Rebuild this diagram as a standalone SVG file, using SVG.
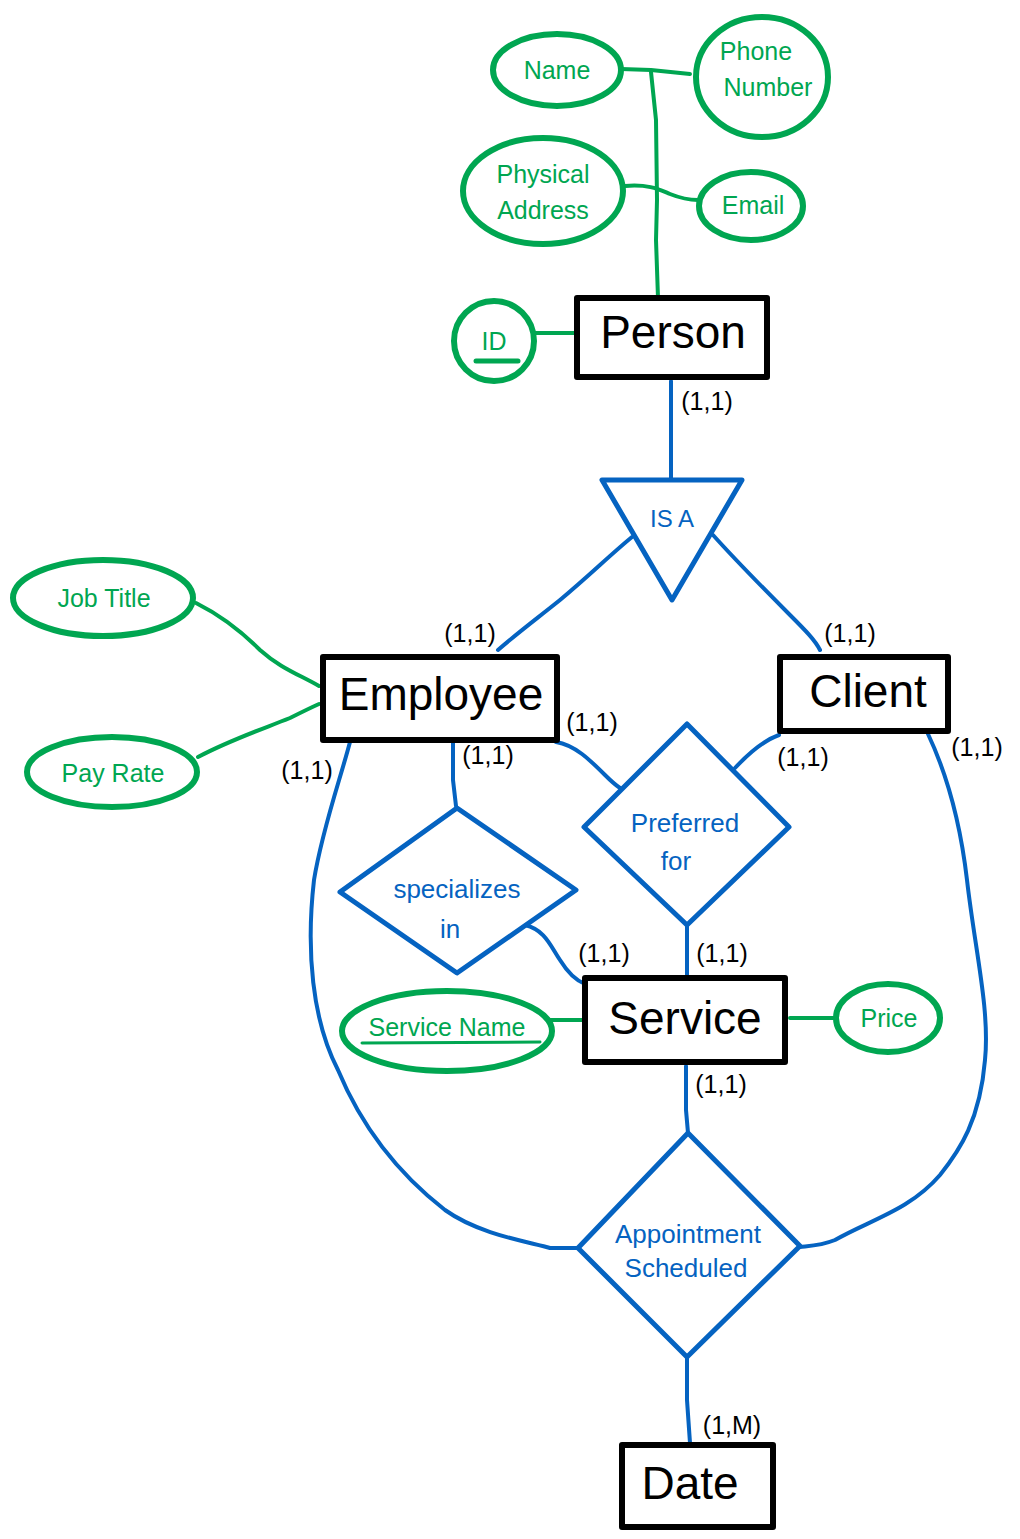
<svg xmlns="http://www.w3.org/2000/svg" width="1020" height="1539" viewBox="0 0 1020 1539">
  <style>
    .ent { fill: #ffffff; stroke: #000000; stroke-width: 6; stroke-linejoin: round; }
    .entText { font-family: "Liberation Sans", "DejaVu Sans", sans-serif; font-size: 46px; fill: #000000; text-anchor: middle; }
    .attr { fill: #ffffff; stroke: #00A651; stroke-width: 6; }
    .attrText { font-family: "Liberation Sans", "DejaVu Sans", sans-serif; font-size: 25px; fill: #00A651; text-anchor: middle; }
    .rel { fill: #ffffff; stroke: #0563C1; stroke-width: 5; stroke-linejoin: round; }
    .relText { font-family: "Liberation Sans", "DejaVu Sans", sans-serif; font-size: 26px; fill: #0563C1; text-anchor: middle; }
    .gLine { fill: none; stroke: #00A651; stroke-width: 4; stroke-linecap: round; stroke-linejoin: round; }
    .bLine { fill: none; stroke: #0563C1; stroke-width: 4; stroke-linecap: round; stroke-linejoin: round; }
    .card { font-family: "Liberation Sans", "DejaVu Sans", sans-serif; font-size: 25px; fill: #000000; text-anchor: middle; }
  </style>

  <!-- connectors -->
  <g id="connectors">
    <!-- Person attributes -->
    <path class="gLine" d="M621,69 L651,70 L690,74"/>
    <path class="gLine" d="M651,72 L656,120 L657,200 L656,240 L658,298"/>
    <path class="gLine" d="M625,186 C650,184 660,190 670,194 C680,198 690,200 698,200"/>
    <path class="gLine" d="M535,333 L577,333"/>
    <!-- Employee attributes -->
    <path class="gLine" d="M196,603 C220,615 240,630 260,650 C280,668 300,675 319,686"/>
    <path class="gLine" d="M198,757 C230,740 260,730 290,718 C300,713 310,708 319,704"/>
    <!-- Service attributes -->
    <path class="gLine" d="M550,1020 L584,1020"/>
    <path class="gLine" d="M790,1018 L836,1018"/>

    <!-- Person to IS A -->
    <path class="bLine" d="M671,381 L671,479"/>
    <!-- IS A to Employee / Client -->
    <path class="bLine" d="M632,537 C610,555 590,575 560,600 C535,620 515,635 498,650"/>
    <path class="bLine" d="M713,535 C740,565 770,595 790,615 C805,630 815,640 820,650"/>
    <!-- Employee to Preferred for -->
    <path class="bLine" d="M556,742 C575,745 590,760 605,775 C612,782 617,786 620,788"/>
    <!-- Client to Preferred for -->
    <path class="bLine" d="M779,735 C765,740 750,752 735,768"/>
    <!-- Preferred for to Service -->
    <path class="bLine" d="M687,926 L687,976"/>
    <!-- Employee to specializes in -->
    <path class="bLine" d="M453,742 L453,780 L456,806"/>
    <!-- specializes in to Service -->
    <path class="bLine" d="M525,925 C545,930 550,945 560,960 C568,973 575,980 585,984"/>
    <!-- Service to Appointment Scheduled -->
    <path class="bLine" d="M686,1066 L686,1110 L688,1133"/>
    <!-- Appointment Scheduled to Date -->
    <path class="bLine" d="M687,1358 L687,1400 L690,1443"/>
    <!-- Employee to Appointment Scheduled -->
    <path class="bLine" d="M350,742 C340,780 322,830 314,880 C306,950 312,1020 338,1070 C363,1130 400,1175 445,1210 C480,1235 530,1242 550,1248 L578,1248"/>
    <!-- Client to Appointment Scheduled -->
    <path class="bLine" d="M928,734 C945,770 960,820 967,880 C975,950 990,1010 985,1060 C980,1120 960,1150 940,1175 C910,1210 870,1220 835,1240 C820,1246 808,1246 800,1247"/>
  </g>

  <!-- cardinality labels -->
  <g id="cardinalities">
    <text class="card" x="707" y="410">(1,1)</text>
    <text class="card" x="470" y="642">(1,1)</text>
    <text class="card" x="850" y="642">(1,1)</text>
    <text class="card" x="592" y="731">(1,1)</text>
    <text class="card" x="488" y="764">(1,1)</text>
    <text class="card" x="307" y="779">(1,1)</text>
    <text class="card" x="803" y="766">(1,1)</text>
    <text class="card" x="977" y="756">(1,1)</text>
    <text class="card" x="604" y="962">(1,1)</text>
    <text class="card" x="722" y="962">(1,1)</text>
    <text class="card" x="721" y="1093">(1,1)</text>
    <text class="card" x="732" y="1434">(1,M)</text>
  </g>

  <!-- Person attributes -->
  <g id="attr-name">
    <ellipse class="attr" cx="557" cy="70" rx="64" ry="36"/>
    <text class="attrText" x="557" y="79">Name</text>
  </g>
  <g id="attr-phone">
    <ellipse class="attr" cx="762" cy="77" rx="66" ry="60"/>
    <text class="attrText" x="756" y="60">Phone</text>
    <text class="attrText" x="768" y="96">Number</text>
  </g>
  <g id="attr-address">
    <ellipse class="attr" cx="543" cy="191" rx="80" ry="53"/>
    <text class="attrText" x="543" y="183">Physical</text>
    <text class="attrText" x="543" y="219">Address</text>
  </g>
  <g id="attr-email">
    <ellipse class="attr" cx="751" cy="206" rx="52" ry="34"/>
    <text class="attrText" x="753" y="214">Email</text>
  </g>
  <g id="attr-id">
    <ellipse class="attr" cx="494" cy="341" rx="40" ry="40"/>
    <text class="attrText" x="494" y="350">ID</text>
    <line class="gLine" x1="476" y1="361" x2="518" y2="361" style="stroke-width:5"/>
  </g>

  <!-- Person -->
  <g id="person">
    <rect class="ent" x="577" y="298" width="190" height="79"/>
    <text class="entText" x="673" y="348">Person</text>
  </g>

  <!-- IS A -->
  <g id="isa">
    <polygon class="rel" points="602,480 742,480 672,600"/>
    <text class="relText" x="672" y="527" style="font-size:24px">IS A</text>
  </g>

  <!-- Employee attributes -->
  <g id="attr-jobtitle">
    <ellipse class="attr" cx="103" cy="598" rx="90" ry="38"/>
    <text class="attrText" x="104" y="607">Job Title</text>
  </g>
  <g id="attr-payrate">
    <ellipse class="attr" cx="112" cy="772" rx="85" ry="35"/>
    <text class="attrText" x="113" y="782">Pay Rate</text>
  </g>

  <!-- Employee -->
  <g id="employee">
    <rect class="ent" x="323" y="657" width="234" height="83"/>
    <text class="entText" x="441" y="710">Employee</text>
  </g>

  <!-- Client -->
  <g id="client">
    <rect class="ent" x="780" y="657" width="168" height="74"/>
    <text class="entText" x="868" y="707">Client</text>
  </g>

  <!-- Preferred for -->
  <g id="preferred-for">
    <polygon class="rel" points="687,724 789,827 687,925 584,827"/>
    <text class="relText" x="685" y="832">Preferred</text>
    <text class="relText" x="676" y="870">for</text>
  </g>

  <!-- specializes in -->
  <g id="specializes-in">
    <polygon class="rel" points="457,808 576,890 457,973 340,892"/>
    <text class="relText" x="457" y="898">specializes</text>
    <text class="relText" x="450" y="938">in</text>
  </g>

  <!-- Service attributes -->
  <g id="attr-servicename">
    <ellipse class="attr" cx="447" cy="1031" rx="105" ry="40"/>
    <text class="attrText" x="447" y="1036">Service Name</text>
    <line class="gLine" x1="362" y1="1043" x2="540" y2="1042" style="stroke-width:3"/>
  </g>
  <g id="attr-price">
    <ellipse class="attr" cx="888" cy="1018" rx="52" ry="34"/>
    <text class="attrText" x="889" y="1027">Price</text>
  </g>

  <!-- Service -->
  <g id="service">
    <rect class="ent" x="585" y="978" width="200" height="84"/>
    <text class="entText" x="685" y="1034">Service</text>
  </g>

  <!-- Appointment Scheduled -->
  <g id="appointment-scheduled">
    <polygon class="rel" points="688,1133 800,1246 687,1357 578,1248"/>
    <text class="relText" x="688" y="1243">Appointment</text>
    <text class="relText" x="686" y="1277">Scheduled</text>
  </g>

  <!-- Date -->
  <g id="date">
    <rect class="ent" x="622" y="1445" width="151" height="82"/>
    <text class="entText" x="690" y="1499">Date</text>
  </g>
</svg>
